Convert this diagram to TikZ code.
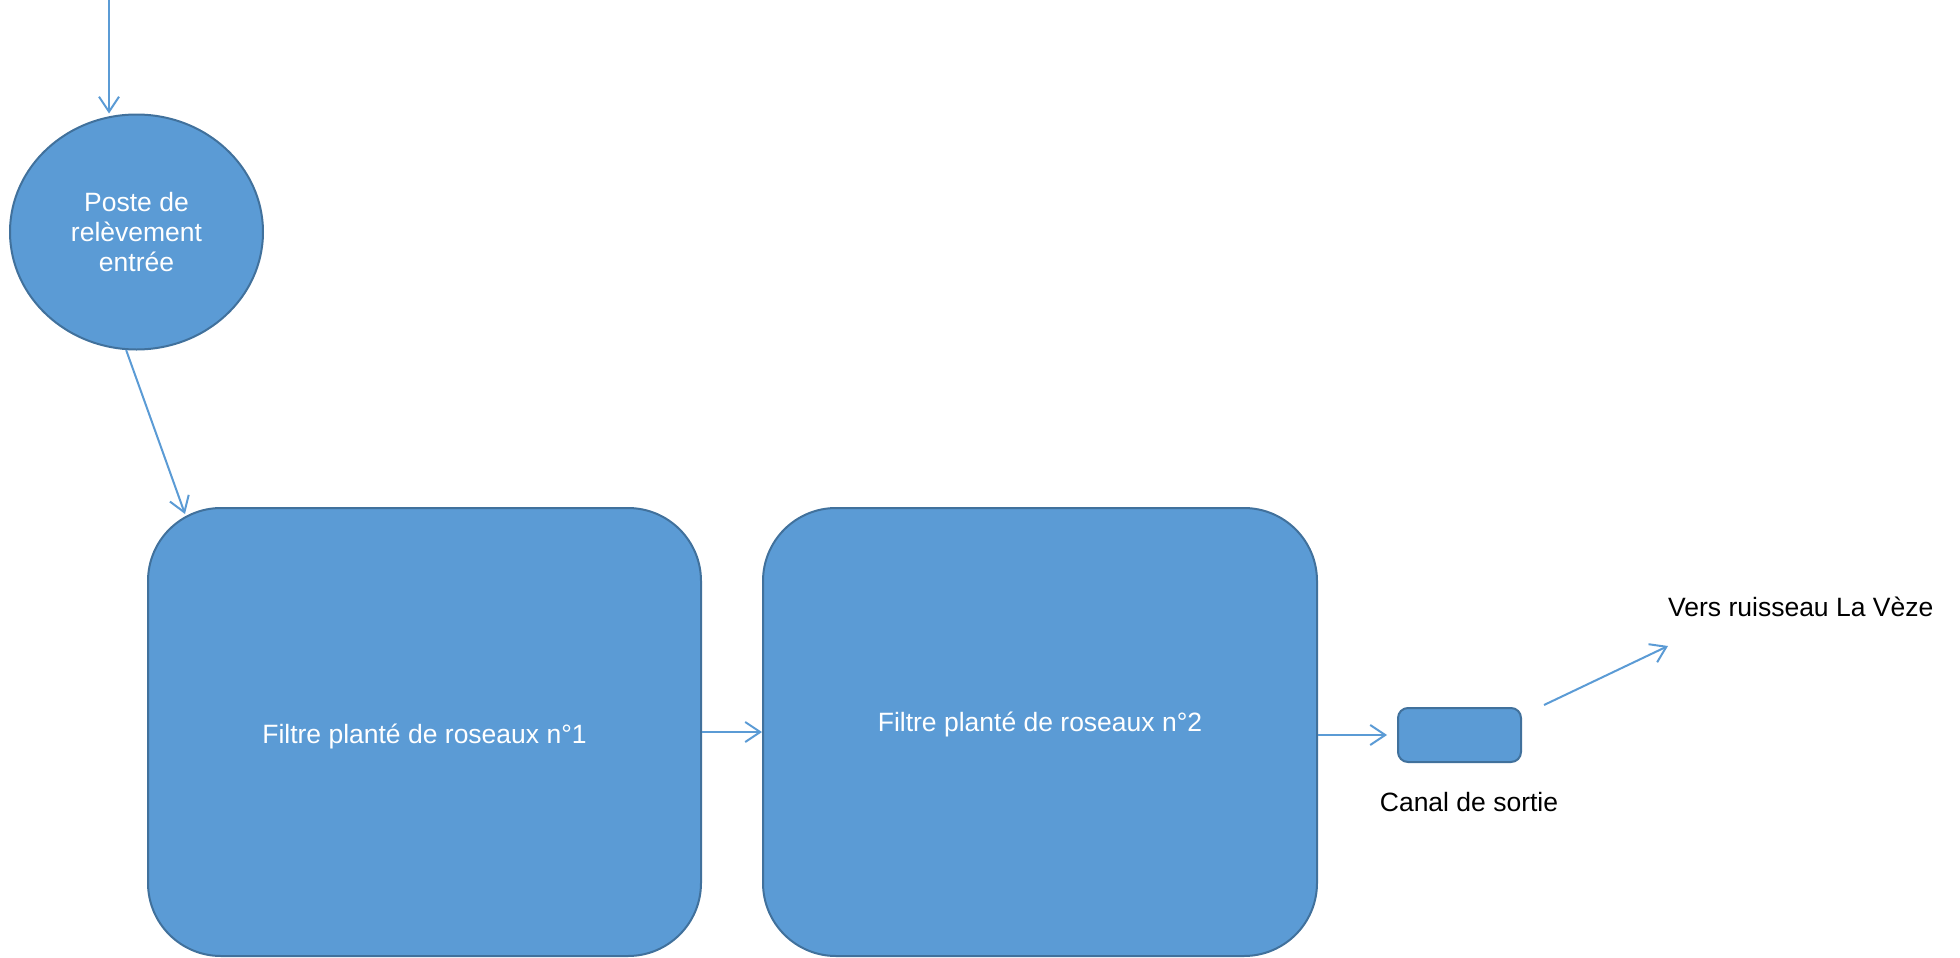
\documentclass[tikz,border=0pt]{standalone}
\usepackage{fontspec}
\setmainfont{Liberation Sans}
\usetikzlibrary{shapes.geometric,arrows.meta}

\definecolor{unitfill}{HTML}{5B9BD5}
\definecolor{unitdraw}{HTML}{41719C}

\tikzset{
    unit/.style={draw=unitdraw, fill=unitfill, line width=2pt, text=white,
        font=\fontsize{26.5}{30}\selectfont, align=center, inner sep=0pt},
    unittext/.style={text=white, font=\fontsize{26.5}{30}\selectfont},
    flow/.style={draw=unitfill, line width=2pt,
        -{Straight Barb[length=15pt,width=20pt,line width=2pt]}},
    tag/.style={font=\fontsize{26.5}{30}\selectfont, inner sep=0pt}
}

\begin{document}
\begin{tikzpicture}[x=1pt, y=1pt, yscale=-1]
    \useasboundingbox (0,0) rectangle (1960,958);

    % Define the positions of the units
    \coordinate (inPos) at (109, 0);
    \coordinate (postePos) at (136.5, 232);
    \coordinate (f1Pos) at (424.5, 732);
    \coordinate (f2Pos) at (1040, 732);
    \coordinate (canalPos) at (1459.5, 735);
    \coordinate (outPos) at (1668, 646);

    % Draw the units
    \node[unit, ellipse, minimum width=253pt, minimum height=235pt] (poste) at (postePos) {Poste de\\relèvement\\entrée};
    \node[unit, rounded corners=73pt, minimum width=553pt, minimum height=448pt,
        label={[unittext, yshift=-4pt]center:Filtre planté de roseaux n°1}] (f1) at (f1Pos) {};
    \node[unit, rounded corners=73pt, minimum width=554pt, minimum height=448pt,
        label={[unittext, yshift=8pt]center:Filtre planté de roseaux n°2}] (f2) at (f2Pos) {};
    \node[unit, rounded corners=10pt, minimum width=123pt, minimum height=54pt] (canal) at (canalPos) {};

    % Draw the labels
    \node[tag] (canalTag) at (1469, 802) {Canal de sortie};
    \node[tag, anchor=west] (versTag) at (1668, 607) {Vers ruisseau La Vèze};

    % Draw the flow
    \draw[flow] (inPos) -- (poste.north -| inPos);
    \draw[flow] (poste.265) -- ([xshift=38pt, yshift=7pt]f1.north west);
    \draw[flow] (f1) -- (f2);
    \draw[flow, shorten >=10pt] (f2.east |- canal) -- (canal);
    \draw[flow] ([xshift=22pt, yshift=-2pt]canal.north east) -- (outPos);
\end{tikzpicture}
\end{document}
